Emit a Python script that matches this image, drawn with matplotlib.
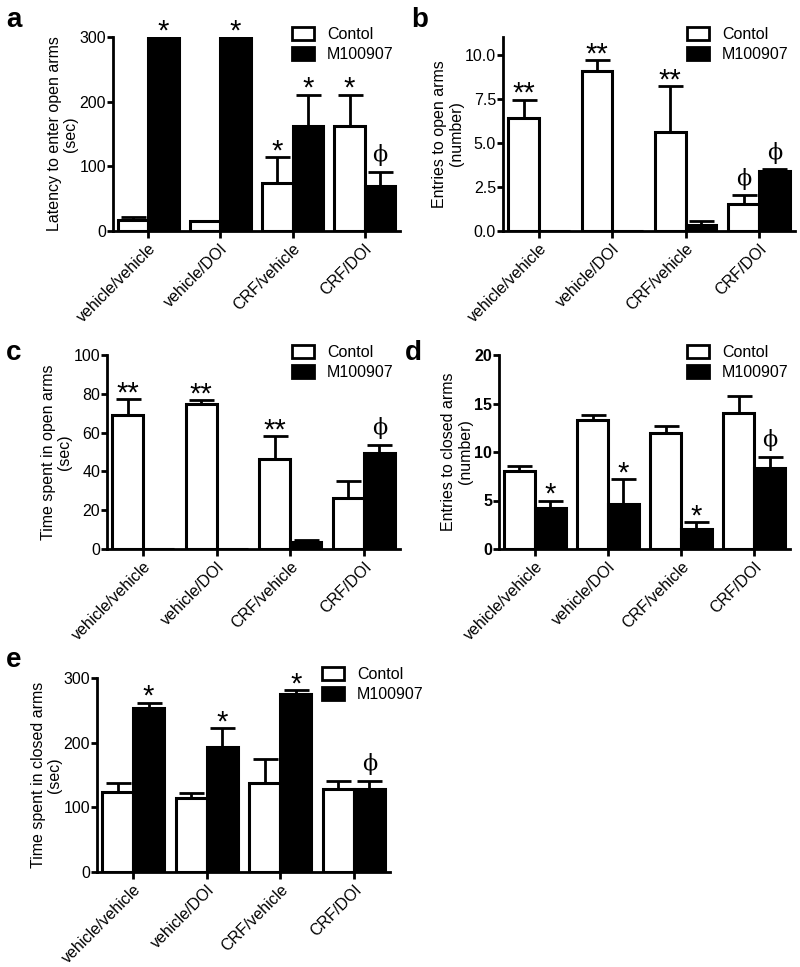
import numpy as np
import matplotlib.pyplot as plt
from matplotlib.patches import Patch

plt.rcParams['font.family'] = ['Liberation Sans', 'DejaVu Sans']

groups = ['vehicle/vehicle', 'vehicle/DOI', 'CRF/vehicle', 'CRF/DOI']
series = ['Contol', 'M100907']

# a - latency to enter open arms (sec)
a_ctl = [17, 16, 74, 162]
a_ctl_err = [5, 0, 41, 49]
a_m = [300, 300, 162, 69]
a_m_err = [0, 0, 49, 23]
a_ctl_marks = ['', '', '*', '*']
a_m_marks = ['*', '*', '*', 'ϕ']

# b - entries to open arms (number)
b_ctl = [6.4, 9.05, 5.63, 1.52]
b_ctl_err = [1.05, 0.65, 2.57, 0.5]
b_m = [0.0, 0.0, 0.36, 3.4]
b_m_err = [0.0, 0.0, 0.2, 0.1]
b_ctl_marks = ['**', '**', '**', 'ϕ']
b_m_marks = ['', '', '', 'ϕ']

# c - time spent in open arms (sec)
c_ctl = [69, 75, 46.3, 26.2]
c_ctl_err = [8.4, 1.8, 11.7, 8.6]
c_m = [0.0, 0.0, 3.4, 49.4]
c_m_err = [0.0, 0.0, 1.4, 4.3]
c_ctl_marks = ['**', '**', '**', '']
c_m_marks = ['', '', '', 'ϕ']

# d - entries to closed arms (number)
d_ctl = [8.0, 13.3, 12.0, 14.0]
d_ctl_err = [0.6, 0.5, 0.7, 1.8]
d_m = [4.2, 4.6, 2.06, 8.4]
d_m_err = [0.8, 2.6, 0.7, 1.1]
d_ctl_marks = ['', '', '', '']
d_m_marks = ['*', '*', '*', 'ϕ']

# e - time spent in closed arms (sec)
e_ctl = [124, 115, 138, 128]
e_ctl_err = [14, 7, 36, 12]
e_m = [253, 193, 275, 128]
e_m_err = [9, 30, 7, 13]
e_ctl_marks = ['', '', '', '']
e_m_marks = ['*', '*', '*', 'ϕ']

fig = plt.figure(figsize=(8, 9.67), dpi=100)
W, H = 800, 967


def px_axes(left, right, top, bottom):
    return fig.add_axes([left / W, 1 - bottom / H, (right - left) / W, (bottom - top) / H])


def panel(ax, ctl, ctl_err, m, m_err, ctl_marks, m_marks, ylim, yticks, yticklabels,
          ylabel, letter, leg_xy, bold_ticks=False):
    x = np.arange(len(groups))
    w = 0.42
    lw = 2.2
    ax.errorbar(x - w / 2, ctl, yerr=[np.zeros(len(ctl)), ctl_err], fmt='none',
                ecolor='black', elinewidth=2, capsize=9, capthick=2, zorder=1)
    ax.errorbar(x + w / 2, m, yerr=[np.zeros(len(m)), m_err], fmt='none',
                ecolor='black', elinewidth=2, capsize=9, capthick=2, zorder=1)
    ax.bar(x - w / 2, ctl, w, facecolor='white', edgecolor='black', linewidth=lw, zorder=2)
    ax.bar(x + w / 2, m, w, facecolor='black', edgecolor='black', linewidth=lw, zorder=2)

    # significance marks above the error bars
    for xs, vals, errs, marks in [(x - w / 2, ctl, ctl_err, ctl_marks), (x + w / 2, m, m_err, m_marks)]:
        for xi, v, e, mk in zip(xs, vals, errs, marks):
            if not mk:
                continue
            if mk == 'ϕ':
                ax.annotate(mk, (xi, v + e), xytext=(0, 12), textcoords='offset points',
                            ha='center', va='center', fontsize=16,
                            family=['DejaVu Serif'], annotation_clip=False)
            else:
                ax.annotate(mk, (xi, v + e), xytext=(0, 4), textcoords='offset points',
                            ha='center', va='center', fontsize=21, annotation_clip=False)

    ax.set_xlim(-0.49, 3.49)
    ax.set_ylim(*ylim)
    ax.set_yticks(yticks)
    ax.set_yticklabels(yticklabels, fontsize=11.5, fontweight='bold' if bold_ticks else 'normal')
    ax.set_xticks(x)
    ax.set_xticklabels(groups, rotation=45, ha='right', rotation_mode='anchor', fontsize=11.5)
    ax.set_ylabel(ylabel, fontsize=11.5, linespacing=1.1, labelpad=1)
    for s in ['top', 'right']:
        ax.spines[s].set_visible(False)
    for s in ['left', 'bottom']:
        ax.spines[s].set_linewidth(2)
    ax.tick_params(axis='y', direction='out', width=2, length=4.5, pad=0.5)
    ax.tick_params(axis='x', direction='out', width=2, length=5, pad=2)

    handles = [Patch(facecolor='white', edgecolor='black', linewidth=2),
               Patch(facecolor='black', edgecolor='black', linewidth=2)]
    ax.legend(handles, series, loc='upper left', bbox_to_anchor=(leg_xy[0] / W, 1 - leg_xy[1] / H),
              bbox_transform=fig.transFigure, frameon=False, fontsize=11.5,
              handlelength=1.4, handleheight=0.85, handletextpad=0.8, labelspacing=0.3,
              borderpad=0, borderaxespad=0)
    fig.text(leg_xy[2] / W, 1 - leg_xy[3] / H, letter, fontsize=20, fontweight='bold',
             ha='left', va='center')


ax_a = px_axes(113, 400, 37, 231)
panel(ax_a, a_ctl, a_ctl_err, a_m, a_m_err, a_ctl_marks, a_m_marks, (0, 300),
      [0, 100, 200, 300], ['0', '100', '200', '300'],
      'Latency to enter open arms\n(sec)', 'a', (292, 27, 6, 20))

ax_b = px_axes(503, 795, 37, 231)
panel(ax_b, b_ctl, b_ctl_err, b_m, b_m_err, b_ctl_marks, b_m_marks, (0, 11),
      [0, 2.5, 5, 7.5, 10], ['0.0', '2.5', '5.0', '7.5', '10.0'],
      'Entries to open arms\n(number)', 'b', (687, 27, 411, 20))

ax_c = px_axes(107, 400, 355, 549)
panel(ax_c, c_ctl, c_ctl_err, c_m, c_m_err, c_ctl_marks, c_m_marks, (0, 100),
      [0, 20, 40, 60, 80, 100], ['0', '20', '40', '60', '80', '100'],
      'Time spent in open arms\n(sec)', 'c', (292, 345, 6, 353))

ax_d = px_axes(499, 790, 355, 549)
panel(ax_d, d_ctl, d_ctl_err, d_m, d_m_err, d_ctl_marks, d_m_marks, (0, 20),
      [0, 5, 10, 15, 20], ['0', '5', '10', '15', '20'],
      'Entries to closed arms\n(number)', 'd', (687, 345, 405, 353), bold_ticks=True)

ax_e = px_axes(97, 390, 678, 872)
panel(ax_e, e_ctl, e_ctl_err, e_m, e_m_err, e_ctl_marks, e_m_marks, (0, 300),
      [0, 100, 200, 300], ['0', '100', '200', '300'],
      'Time spent in closed arms\n(sec)', 'e', (322, 667, 6, 660))

fig.savefig('out.png', dpi=100)
